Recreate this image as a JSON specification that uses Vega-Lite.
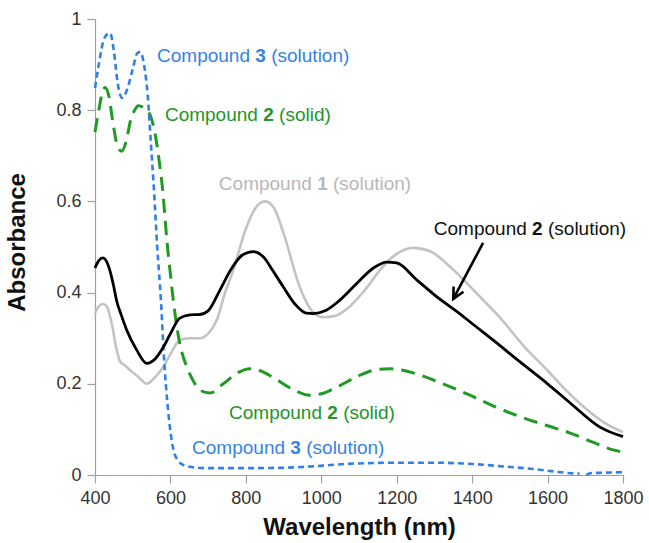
{
  "$schema": "https://vega.github.io/schema/vega-lite/v6.json",
  "width": 528,
  "height": 456,
  "autosize": "none",
  "padding": {"left": 95, "top": 19, "right": 26, "bottom": 68},
  "background": "white",
  "config": {
    "view": {"stroke": null},
    "font": "Liberation Sans",
    "axis": {
      "grid": false,
      "domainColor": "#a0a0a0",
      "domainWidth": 1.2,
      "tickColor": "#a0a0a0",
      "tickWidth": 1.2,
      "tickSize": 8,
      "labelFont": "Liberation Sans",
      "labelFontSize": 18,
      "labelColor": "#333333",
      "labelFlush": false,
      "labelOverlap": false,
      "titleFont": "Liberation Sans",
      "titleFontSize": 24,
      "titleFontWeight": "bold",
      "titleColor": "#111111"
    }
  },
  "datasets": {
    "c3solution": [
      {"nm": 400, "abs": 0.849, "seg": "a"}, {"nm": 410, "abs": 0.9, "seg": "a"}, {"nm": 420, "abs": 0.945, "seg": "a"},
      {"nm": 430, "abs": 0.965, "seg": "a"}, {"nm": 440, "abs": 0.969, "seg": "a"}, {"nm": 450, "abs": 0.93, "seg": "a"},
      {"nm": 460, "abs": 0.86, "seg": "a"}, {"nm": 472, "abs": 0.827, "seg": "a"}, {"nm": 485, "abs": 0.845, "seg": "a"},
      {"nm": 500, "abs": 0.89, "seg": "a"}, {"nm": 512, "abs": 0.925, "seg": "a"}, {"nm": 520, "abs": 0.928, "seg": "a"},
      {"nm": 530, "abs": 0.9, "seg": "a"}, {"nm": 540, "abs": 0.83, "seg": "a"}, {"nm": 548, "abs": 0.73, "seg": "a"},
      {"nm": 556, "abs": 0.63, "seg": "a"}, {"nm": 565, "abs": 0.5, "seg": "a"}, {"nm": 575, "abs": 0.38, "seg": "a"},
      {"nm": 582, "abs": 0.27, "seg": "a"}, {"nm": 594, "abs": 0.14, "seg": "a"}, {"nm": 608, "abs": 0.055, "seg": "a"},
      {"nm": 620, "abs": 0.032, "seg": "a"}, {"nm": 634, "abs": 0.022, "seg": "a"}, {"nm": 660, "abs": 0.017, "seg": "a"},
      {"nm": 700, "abs": 0.015, "seg": "a"}, {"nm": 800, "abs": 0.015, "seg": "a"}, {"nm": 900, "abs": 0.016, "seg": "a"},
      {"nm": 997, "abs": 0.02, "seg": "a"}, {"nm": 1060, "abs": 0.024, "seg": "a"}, {"nm": 1121, "abs": 0.026, "seg": "a"},
      {"nm": 1200, "abs": 0.027, "seg": "a"}, {"nm": 1297, "abs": 0.027, "seg": "a"}, {"nm": 1402, "abs": 0.024, "seg": "a"},
      {"nm": 1480, "abs": 0.019, "seg": "a"}, {"nm": 1562, "abs": 0.013, "seg": "a"}, {"nm": 1615, "abs": 0.008, "seg": "a"},
      {"nm": 1660, "abs": 0.004, "seg": "a"}, {"nm": 1685, "abs": 0.003, "seg": "a"},
      {"nm": 1703, "abs": 0.0, "seg": "b"}, {"nm": 1713, "abs": 0.004, "seg": "b"}, {"nm": 1750, "abs": 0.005, "seg": "b"},
      {"nm": 1800, "abs": 0.006, "seg": "b"}
    ],
    "c2solid": [
      {"nm": 400, "abs": 0.752}, {"nm": 410, "abs": 0.8}, {"nm": 420, "abs": 0.84}, {"nm": 427, "abs": 0.85},
      {"nm": 437, "abs": 0.83}, {"nm": 448, "abs": 0.77}, {"nm": 460, "abs": 0.72}, {"nm": 471, "abs": 0.71},
      {"nm": 482, "abs": 0.73}, {"nm": 495, "abs": 0.78}, {"nm": 505, "abs": 0.8}, {"nm": 515, "abs": 0.81},
      {"nm": 530, "abs": 0.805}, {"nm": 546, "abs": 0.79}, {"nm": 560, "abs": 0.745}, {"nm": 570, "abs": 0.69},
      {"nm": 580, "abs": 0.62}, {"nm": 590, "abs": 0.52}, {"nm": 600, "abs": 0.44}, {"nm": 608, "abs": 0.38},
      {"nm": 620, "abs": 0.31}, {"nm": 630, "abs": 0.27}, {"nm": 642, "abs": 0.24}, {"nm": 652, "abs": 0.22},
      {"nm": 665, "abs": 0.2}, {"nm": 678, "abs": 0.186}, {"nm": 705, "abs": 0.18}, {"nm": 740, "abs": 0.2},
      {"nm": 780, "abs": 0.225}, {"nm": 811, "abs": 0.233}, {"nm": 840, "abs": 0.228}, {"nm": 870, "abs": 0.215},
      {"nm": 920, "abs": 0.19}, {"nm": 970, "abs": 0.175}, {"nm": 1000, "abs": 0.178}, {"nm": 1042, "abs": 0.193},
      {"nm": 1100, "abs": 0.218}, {"nm": 1140, "abs": 0.23}, {"nm": 1182, "abs": 0.233}, {"nm": 1220, "abs": 0.229},
      {"nm": 1262, "abs": 0.219}, {"nm": 1323, "abs": 0.2}, {"nm": 1394, "abs": 0.175}, {"nm": 1460, "abs": 0.15},
      {"nm": 1527, "abs": 0.128}, {"nm": 1600, "abs": 0.108}, {"nm": 1660, "abs": 0.092}, {"nm": 1720, "abs": 0.072},
      {"nm": 1774, "abs": 0.055}, {"nm": 1800, "abs": 0.05}
    ],
    "c1solution": [
      {"nm": 400, "abs": 0.355}, {"nm": 410, "abs": 0.37}, {"nm": 421, "abs": 0.375}, {"nm": 431, "abs": 0.37},
      {"nm": 445, "abs": 0.33}, {"nm": 456, "abs": 0.28}, {"nm": 466, "abs": 0.25}, {"nm": 480, "abs": 0.24},
      {"nm": 493, "abs": 0.23}, {"nm": 515, "abs": 0.215}, {"nm": 537, "abs": 0.2}, {"nm": 560, "abs": 0.215},
      {"nm": 581, "abs": 0.237}, {"nm": 600, "abs": 0.265}, {"nm": 625, "abs": 0.296}, {"nm": 650, "abs": 0.3},
      {"nm": 678, "abs": 0.3}, {"nm": 700, "abs": 0.31}, {"nm": 723, "abs": 0.34}, {"nm": 745, "abs": 0.4},
      {"nm": 767, "abs": 0.45}, {"nm": 800, "abs": 0.54}, {"nm": 830, "abs": 0.59}, {"nm": 851, "abs": 0.6},
      {"nm": 875, "abs": 0.585}, {"nm": 900, "abs": 0.53}, {"nm": 944, "abs": 0.41}, {"nm": 975, "abs": 0.36},
      {"nm": 1005, "abs": 0.346}, {"nm": 1040, "abs": 0.35}, {"nm": 1076, "abs": 0.37}, {"nm": 1120, "abs": 0.41},
      {"nm": 1156, "abs": 0.45}, {"nm": 1200, "abs": 0.485}, {"nm": 1244, "abs": 0.498}, {"nm": 1290, "abs": 0.49},
      {"nm": 1350, "abs": 0.45}, {"nm": 1410, "abs": 0.4}, {"nm": 1474, "abs": 0.345}, {"nm": 1540, "abs": 0.28},
      {"nm": 1599, "abs": 0.23}, {"nm": 1650, "abs": 0.185}, {"nm": 1705, "abs": 0.143}, {"nm": 1750, "abs": 0.115},
      {"nm": 1800, "abs": 0.094}
    ],
    "c2solution": [
      {"nm": 400, "abs": 0.454}, {"nm": 410, "abs": 0.47}, {"nm": 421, "abs": 0.476}, {"nm": 435, "abs": 0.46},
      {"nm": 448, "abs": 0.42}, {"nm": 458, "abs": 0.38}, {"nm": 470, "abs": 0.35}, {"nm": 484, "abs": 0.318},
      {"nm": 510, "abs": 0.275}, {"nm": 537, "abs": 0.245}, {"nm": 560, "abs": 0.255}, {"nm": 581, "abs": 0.28},
      {"nm": 600, "abs": 0.31}, {"nm": 625, "abs": 0.344}, {"nm": 652, "abs": 0.351}, {"nm": 678, "abs": 0.352},
      {"nm": 700, "abs": 0.36}, {"nm": 731, "abs": 0.405}, {"nm": 760, "abs": 0.45}, {"nm": 790, "abs": 0.482},
      {"nm": 820, "abs": 0.49}, {"nm": 850, "abs": 0.475}, {"nm": 870, "abs": 0.45}, {"nm": 899, "abs": 0.413},
      {"nm": 930, "abs": 0.375}, {"nm": 960, "abs": 0.355}, {"nm": 979, "abs": 0.354}, {"nm": 1010, "abs": 0.36},
      {"nm": 1050, "abs": 0.384}, {"nm": 1100, "abs": 0.425}, {"nm": 1140, "abs": 0.455}, {"nm": 1174, "abs": 0.467},
      {"nm": 1200, "abs": 0.465}, {"nm": 1253, "abs": 0.428}, {"nm": 1300, "abs": 0.395}, {"nm": 1376, "abs": 0.348},
      {"nm": 1394, "abs": 0.336}, {"nm": 1460, "abs": 0.293}, {"nm": 1527, "abs": 0.248}, {"nm": 1600, "abs": 0.2},
      {"nm": 1660, "abs": 0.158}, {"nm": 1739, "abs": 0.105}, {"nm": 1800, "abs": 0.084}
    ],
    "labels": [
      {"nm": 839, "abs": 0.919, "num": "3", "state": "(solution)", "color": "#3583e6"},
      {"nm": 860, "abs": 0.79, "num": "2", "state": "(solid)", "color": "#22962a"},
      {"nm": 1003, "abs": 0.638, "num": "1", "state": "(solution)", "color": "#b8b8b8"},
      {"nm": 1573, "abs": 0.539, "num": "2", "state": "(solution)", "color": "#111111"},
      {"nm": 1030, "abs": 0.136, "num": "2", "state": "(solid)", "color": "#22962a"},
      {"nm": 932, "abs": 0.059, "num": "3", "state": "(solution)", "color": "#3583e6"}
    ],
    "arrow": [
      {"nm": 1429, "abs": 0.509, "nm2": 1350, "abs2": 0.386}
    ]
  },
  "encoding": {
    "x": {
      "field": "nm", "type": "quantitative",
      "scale": {"domain": [400, 1800], "nice": false, "zero": false},
      "axis": {
        "title": "Wavelength (nm)",
        "values": [400, 600, 800, 1000, 1200, 1400, 1600, 1800],
        "format": "d",
        "labelPadding": 6,
        "titleX": 264, "titleY": 52, "titleBaseline": "middle", "titleAlign": "center"
      }
    },
    "y": {
      "field": "abs", "type": "quantitative",
      "scale": {"domain": [0, 1], "nice": false},
      "axis": {
        "title": "Absorbance",
        "values": [0, 0.2, 0.4, 0.6, 0.8, 1],
        "format": "~g",
        "labelPadding": 6,
        "titleX": -78, "titleY": 223, "titleBaseline": "middle", "titleAlign": "center", "titleAngle": -90
      }
    }
  },
  "layer": [
    {
      "data": {"name": "c1solution"},
      "mark": {"type": "line", "color": "#c3c3c3", "strokeWidth": 2.6, "interpolate": "monotone"}
    },
    {
      "data": {"name": "c2solid"},
      "mark": {"type": "line", "color": "#1f9a22", "strokeWidth": 3, "strokeDash": [14, 8], "interpolate": "monotone"}
    },
    {
      "data": {"name": "c3solution"},
      "mark": {"type": "line", "color": "#2f80ea", "strokeWidth": 2.6, "strokeDash": [6, 4], "interpolate": "monotone"},
      "encoding": {"detail": {"field": "seg"}}
    },
    {
      "data": {"name": "c2solution"},
      "mark": {"type": "line", "color": "#000000", "strokeWidth": 2.8, "interpolate": "monotone"}
    },
    {
      "data": {"name": "arrow"},
      "mark": {"type": "rule", "color": "#000000", "strokeWidth": 2.6},
      "encoding": {"x2": {"field": "nm2"}, "y2": {"field": "abs2"}}
    },
    {
      "data": {"name": "arrow"},
      "mark": {
        "type": "point", "shape": "M-0.5,1L0,0L0.5,1", "filled": false,
        "stroke": "#000000", "strokeWidth": 2.6, "size": 500, "angle": 208, "opacity": 1
      },
      "encoding": {"x": {"field": "nm2", "type": "quantitative"}, "y": {"field": "abs2", "type": "quantitative"}}
    },
    {
      "data": {"name": "labels"},
      "mark": {"type": "text", "align": "right", "baseline": "middle", "fontSize": 19, "dx": -10.6, "text": "Compound"},
      "encoding": {"color": {"field": "color", "type": "nominal", "scale": null}}
    },
    {
      "data": {"name": "labels"},
      "mark": {"type": "text", "align": "center", "baseline": "middle", "fontSize": 19, "fontWeight": "bold"},
      "encoding": {"text": {"field": "num"}, "color": {"field": "color", "type": "nominal", "scale": null}}
    },
    {
      "data": {"name": "labels"},
      "mark": {"type": "text", "align": "left", "baseline": "middle", "fontSize": 19, "dx": 10.6},
      "encoding": {"text": {"field": "state"}, "color": {"field": "color", "type": "nominal", "scale": null}}
    }
  ]
}
